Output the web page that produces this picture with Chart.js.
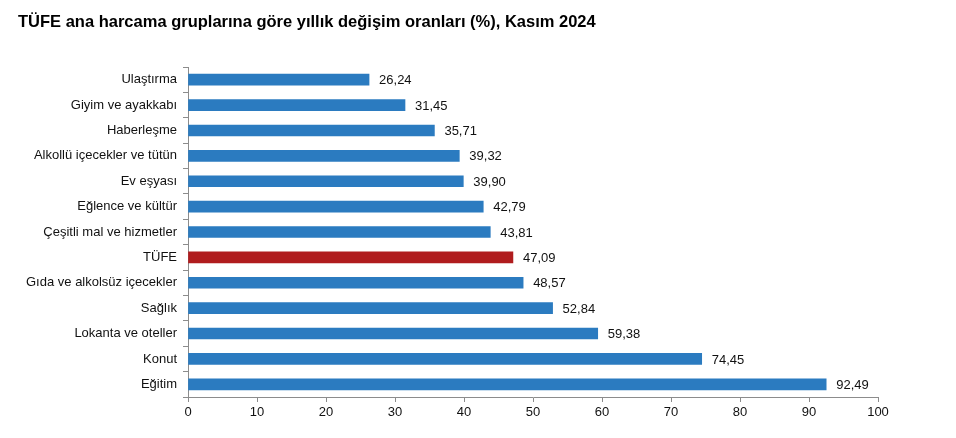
<!DOCTYPE html>
<html>
<head>
<meta charset="utf-8">
<script src="https://cdn.jsdelivr.net/npm/chart.js@4/dist/chart.umd.min.js"></script>
<style>
html,body{margin:0;padding:0;background:#fff;}
canvas{display:block;}
</style>
</head>
<body>
<canvas id="c" width="956" height="438"></canvas>
<script>
const chartTitle = "TÜFE ana harcama gruplarına göre yıllık değişim oranları (%), Kasım 2024";
const categories = ["Ulaştırma","Giyim ve ayakkabı","Haberleşme","Alkollü içecekler ve tütün","Ev eşyası","Eğlence ve kültür","Çeşitli mal ve hizmetler","TÜFE","Gıda ve alkolsüz içecekler","Sağlık","Lokanta ve oteller","Konut","Eğitim"];
const values = [26.24,31.45,35.71,39.32,39.90,42.79,43.81,47.09,48.57,52.84,59.38,74.45,92.49];
const highlight = "TÜFE";
const xTicks = [0,10,20,30,40,50,60,70,80,90,100];

const FONT = '"Liberation Sans", Arial, sans-serif';
const BLUE = '#2b7bc0';
const RED = '#b01c1e';

const titlePlugin = {
  id: 'titleText',
  afterDraw(chart) {
    const ctx = chart.ctx;
    ctx.save();
    ctx.font = 'bold 16.5px ' + FONT;
    ctx.fillStyle = '#000';
    ctx.textBaseline = 'middle';
    ctx.textAlign = 'left';
    ctx.fillText(chartTitle, 18, 22);
    ctx.restore();
  }
};

const valueLabels = {
  id: 'valueLabels',
  afterDatasetsDraw(chart) {
    const ctx = chart.ctx;
    const meta = chart.getDatasetMeta(0);
    ctx.save();
    ctx.font = '13px ' + FONT;
    ctx.fillStyle = '#111';
    ctx.textBaseline = 'middle';
    ctx.textAlign = 'left';
    meta.data.forEach((bar, i) => {
      const v = chart.data.datasets[0].data[i];
      ctx.fillText(v.toFixed(2).replace('.', ','), bar.x + 10, bar.y + 1);
    });
    ctx.restore();
  }
};

new Chart(document.getElementById('c'), {
  type: 'bar',
  data: {
    labels: categories,
    datasets: [{
      data: values,
      backgroundColor: categories.map(c => c === highlight ? RED : BLUE),
      borderWidth: 0,
      barThickness: 11
    }]
  },
  options: {
    indexAxis: 'y',
    responsive: false,
    animation: false,
    devicePixelRatio: 1,
    layout: { padding: { top: 67, right: 78, left: 0, bottom: 0 } },
    plugins: { legend: { display: false }, tooltip: { enabled: false }, title: { display: false } },
    scales: {
      x: {
        min: 0, max: 100,
        afterBuildTicks(scale) { scale.ticks = xTicks.map(v => ({ value: v })); },
        afterFit(scale) { scale.height = 41; },
        grid: { drawOnChartArea: false, drawTicks: true, tickLength: 5, color: '#8c8c8c' },
        border: { display: true, color: '#8c8c8c' },
        ticks: { padding: 3, color: '#111', font: { family: FONT, size: 13 }, maxRotation: 0 }
      },
      y: {
        afterFit(scale) { scale.width = 188; },
        grid: { drawOnChartArea: false, drawTicks: true, tickLength: 5, color: '#8c8c8c', offset: true },
        border: { display: true, color: '#8c8c8c' },
        ticks: { padding: 6, color: '#111', font: { family: FONT, size: 13 }, autoSkip: false }
      }
    }
  },
  plugins: [titlePlugin, valueLabels]
});
</script>
</body>
</html>
